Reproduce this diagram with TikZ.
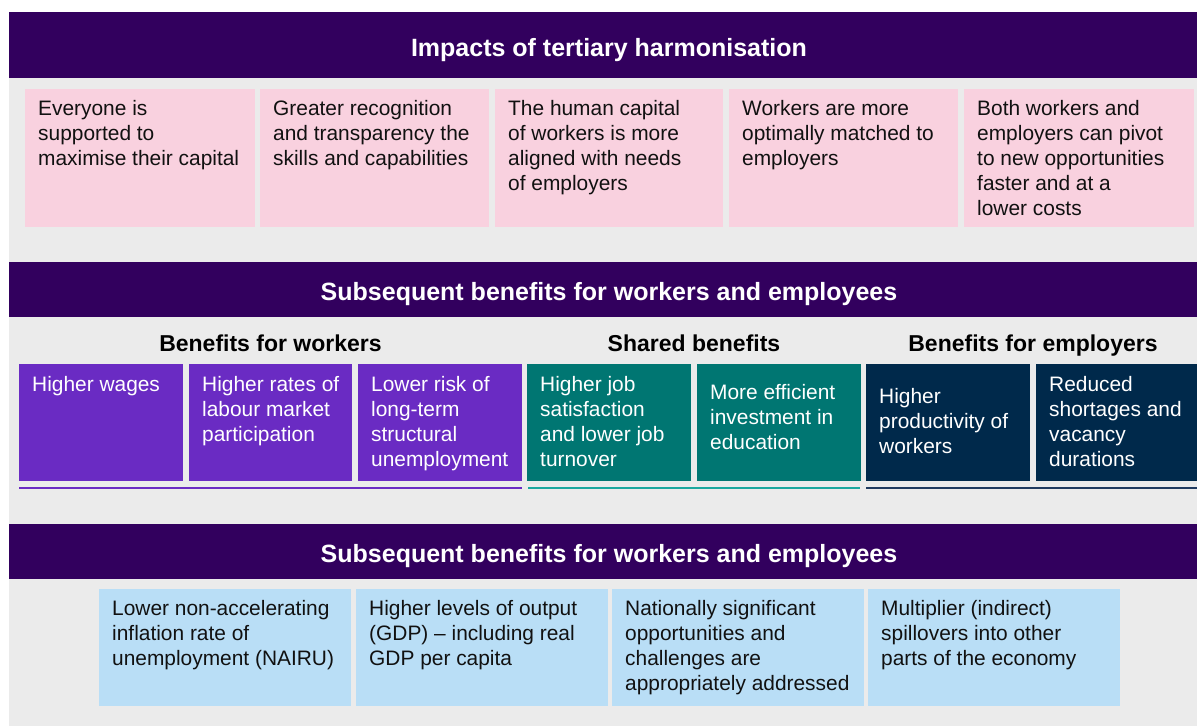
\documentclass[tikz,border=0pt]{standalone}
\usepackage{fontspec}
\setmainfont{Liberation Sans}
\definecolor{bannerc}{HTML}{32005E}
\definecolor{grayc}{HTML}{EBEBEB}
\definecolor{pinkc}{HTML}{F9D1DF}
\definecolor{purplec}{HTML}{6A2BC3}
\definecolor{tealc}{HTML}{007672}
\definecolor{tealline}{HTML}{1AA89F}
\definecolor{navyc}{HTML}{00294B}
\definecolor{navyline}{HTML}{1F3A5F}
\definecolor{bluec}{HTML}{B9DEF6}
\definecolor{textc}{HTML}{111111}
\tikzset{
  bodytxt/.style={anchor=north west, inner sep=0pt, align=left,
    font=\fontsize{20.9}{25}\selectfont, text=textc},
  whitetxt/.style={bodytxt, text=white},
  titletxt/.style={anchor=base, inner sep=0pt, text=white,
    font=\fontsize{25}{30}\selectfont\bfseries},
  headtxt/.style={anchor=base, inner sep=0pt, text=black,
    font=\fontsize{23}{28}\selectfont\bfseries},
  uline/.style={line width=2.7pt}
}
\newcommand{\stt}{\rule{0pt}{18pt}}
\begin{document}
\begin{tikzpicture}[x=1pt,y=-1pt]
\useasboundingbox (0,0) rectangle (1197,726);
\fill[white] (0,0) rectangle (1197,726);
\fill[grayc] (9,12) rectangle (1197,726);
% banners
\fill[bannerc] (9,12) rectangle (1197,78);
\fill[bannerc] (9,262) rectangle (1197,317);
\fill[bannerc] (9,524) rectangle (1197,579);
\node[titletxt] (title1) at (609,56) {Impacts of tertiary harmonisation};
\node[titletxt] (title2) at (609,300) {Subsequent benefits for workers and employees};
\node[titletxt] (title3) at (609,562) {Subsequent benefits for workers and employees};
% row 1 pink boxes
\fill[pinkc] (25,89) rectangle (255,227);
\fill[pinkc] (260,89) rectangle (489,227);
\fill[pinkc] (495,89) rectangle (723,227);
\fill[pinkc] (729,89) rectangle (958,227);
\fill[pinkc] (964,89) rectangle (1194,227);
\node[bodytxt] (p1) at (38,97) {\stt Everyone is\\supported to\\maximise their capital};
\node[bodytxt] (p2) at (273,97) {\stt Greater recognition\\and transparency the\\skills and capabilities};
\node[bodytxt] (p3) at (508,97) {\stt The human capital\\of workers is more\\aligned with needs\\of employers};
\node[bodytxt] (p4) at (742,97) {\stt Workers are more\\optimally matched to\\employers};
\node[bodytxt] (p5) at (977,97) {\stt Both workers and\\employers can pivot\\to new opportunities\\faster and at a\\lower costs};
% row 2 headings
\node[headtxt] (h1) at (270.5,351) {Benefits for workers};
\node[headtxt] (h2) at (694,351) {Shared benefits};
\node[headtxt] (h3) at (1033,351) {Benefits for employers};
% row 2 boxes
\fill[purplec] (19,364) rectangle (183,481);
\fill[purplec] (189,364) rectangle (352,481);
\fill[purplec] (358,364) rectangle (522,481);
\fill[tealc] (527,364) rectangle (691,481);
\fill[tealc] (697,364) rectangle (861,481);
\fill[navyc] (866,364) rectangle (1030,481);
\fill[navyc] (1036,364) rectangle (1197,481);
\node[whitetxt] (w1) at (32,373) {\stt Higher wages};
\node[whitetxt] (w2) at (202,373) {\stt Higher rates of\\labour market\\participation};
\node[whitetxt] (w3) at (371,373) {\stt Lower risk of\\long-term\\structural\\unemployment};
\node[whitetxt] (s1) at (540,373) {\stt Higher job\\satisfaction\\and lower job\\turnover};
\node[whitetxt] (s2) at (710,381) {\stt More efficient\\investment in\\education};
\node[whitetxt] (e1) at (879,385) {\stt Higher\\productivity of\\workers};
\node[whitetxt] (e2) at (1049,373) {\stt Reduced\\shortages and\\vacancy\\durations};
% underlines
\coordinate (u1a) at (19,488); \coordinate (u1b) at (522,488);
\coordinate (u2a) at (528,488); \coordinate (u2b) at (860,488);
\coordinate (u3a) at (866,488); \coordinate (u3b) at (1197,488);
\draw[uline, purplec] (u1a) -- (u1b);
\draw[uline, tealline] (u2a) -- (u2b);
\draw[uline, navyline] (u3a) -- (u3b);
% row 3 boxes
\fill[bluec] (99,589) rectangle (351,706);
\fill[bluec] (356,589) rectangle (608,706);
\fill[bluec] (612,589) rectangle (864,706);
\fill[bluec] (868,589) rectangle (1120,706);
\node[bodytxt] (b1) at (112,597) {\stt Lower non-accelerating\\inflation rate of\\unemployment (NAIRU)};
\node[bodytxt] (b2) at (369,597) {\stt Higher levels of output\\(GDP) – including real\\GDP per capita};
\node[bodytxt] (b3) at (625,597) {\stt Nationally significant\\opportunities and\\challenges are\\appropriately addressed};
\node[bodytxt] (b4) at (881,597) {\stt Multiplier (indirect)\\spillovers into other\\parts of the economy};
\end{tikzpicture}
\end{document}
